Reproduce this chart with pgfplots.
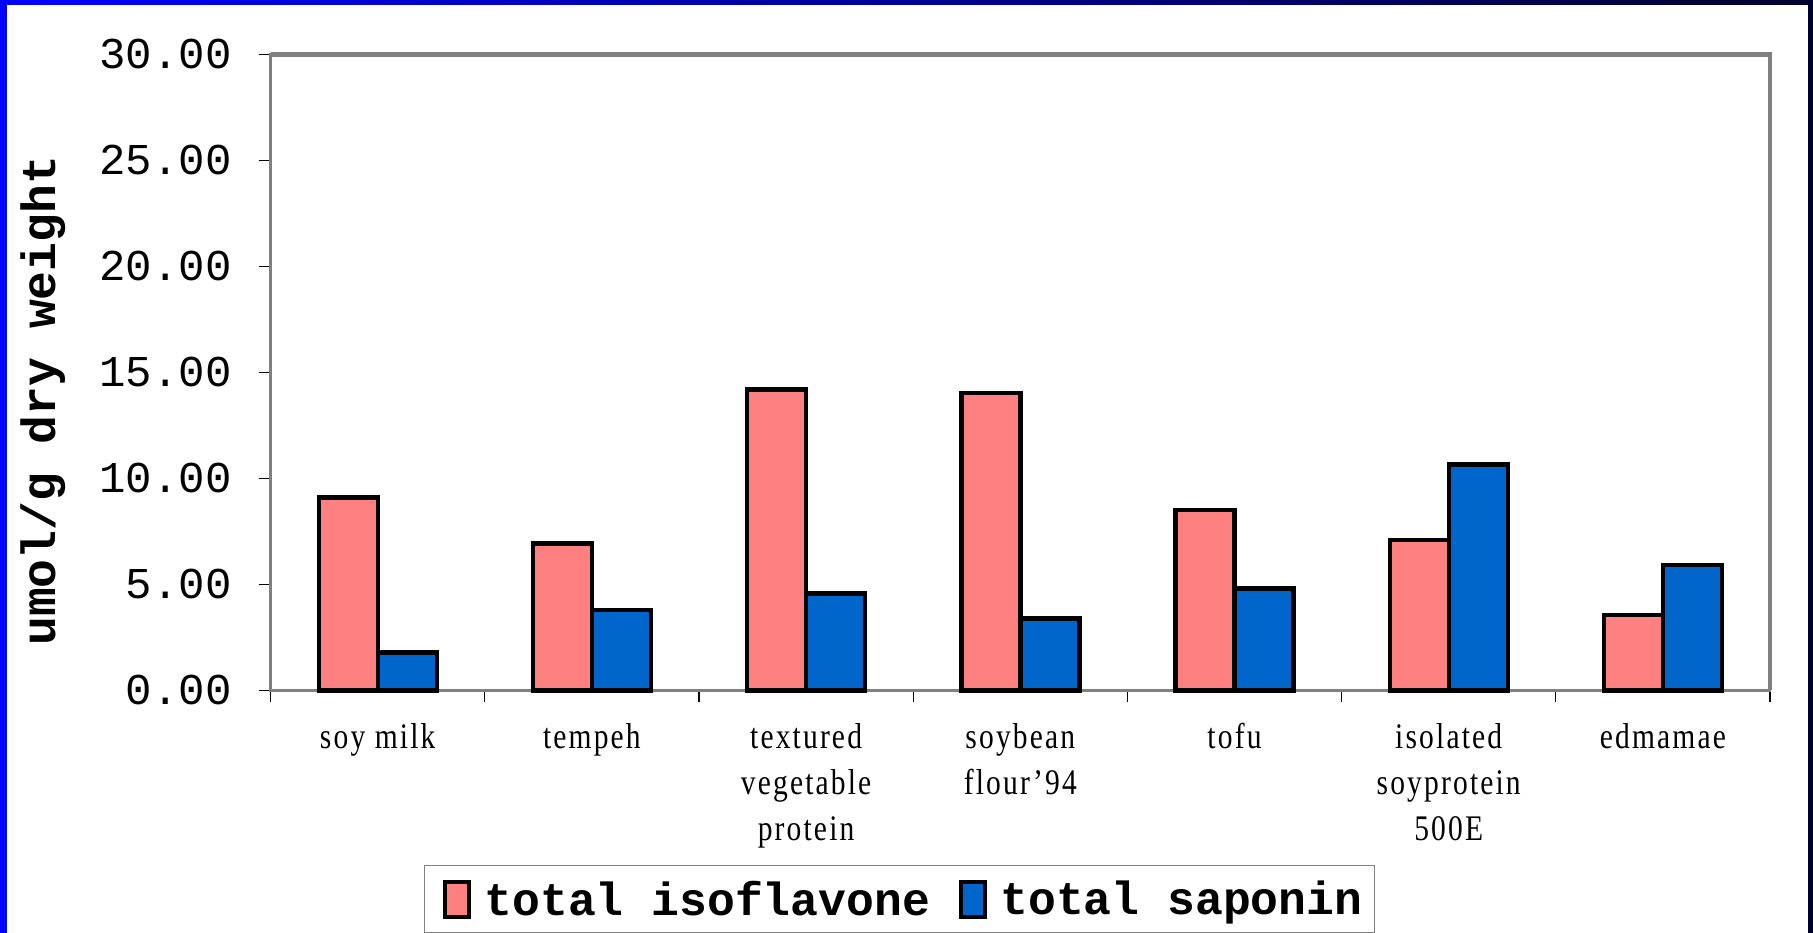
\documentclass[border=0pt]{standalone}
\usepackage{pgfplots}
\pgfplotsset{compat=1.18}
\usepackage{fontspec}
\setmainfont{Liberation Serif}
\newfontfamily\cour{Liberation Mono}
\newfontfamily\tnr[FakeStretch=0.82, LetterSpace=6]{Liberation Serif}
\definecolor{pinkc}{HTML}{FF8080}
\definecolor{bluec}{HTML}{0066CC}
\definecolor{axgray}{HTML}{808080}
\begin{document}
\begin{tikzpicture}
\useasboundingbox (0,0) rectangle (906.5pt,-466pt);
\shade[left color={rgb,255:red,0;green,0;blue,255}, right color={rgb,255:red,0;green,0;blue,45}] (0,0) rectangle (906.5pt,-466pt);
\fill[white] (3.5pt,-2.5pt) rectangle (904pt,-470pt);
\begin{axis}[
  at={(135.3pt,-27.15pt)}, anchor=north west,
  scale only axis, width=749.7pt, height=318pt,
  ybar=0pt, bar width=29.5pt,
  xmin=-0.5, xmax=6.5, ymin=0, ymax=30,
  clip=false,
  xtick={0,...,6},
  xticklabels={soy milk, tempeh, {textured\\vegetable\\protein}, {soybean\\flour’94}, tofu, {isolated\\soyprotein\\500E}, edmamae},
  minor xtick={-0.5,0.5,...,6.5},
  major x tick style={draw=none},
  minor x tick style={black, line width=0.6pt},
  minor tick length=6pt,
  ytick={0,5,...,30},
  major tick length=6pt,
  tick align=outside,
  tick pos=left,
  ytick style={black, line width=0.6pt},
  axis line style={axgray, line width=1.3pt},
  /pgf/number format/.cd, fixed, fixed zerofill, precision=2, assume math mode=true,
  /pgfplots/.cd,
  yticklabel style={font=\cour\fontsize{22}{22}\selectfont, xshift=-10pt},
  xticklabel style={font=\tnr\fontsize{18}{23}\selectfont, align=center, anchor=north, inner sep=0pt, yshift=-10.3pt},
  ylabel={umol/g dry weight},
  every axis y label/.style={at={(axis description cs:-0.1435,0.455)}, rotate=90, anchor=base, font=\cour\bfseries\fontsize{24}{24}\selectfont},
  legend columns=2,
  legend style={at={(axis description cs:0.1023,-0.2747)}, anchor=north west,
    draw=axgray, line width=0.7pt, inner xsep=6pt, inner ysep=7pt,
    font=\cour\bfseries\fontsize{23.2}{23.2}\selectfont,
    nodes={inner sep=0pt},
    /tikz/every odd column/.append style={column sep=6.7pt},
    /tikz/every even column/.append style={column sep=11.3pt}},
  legend image code/.code={\path (0pt,0pt); \draw[#1, line width=2.2pt] (3pt,-8.75pt) rectangle (15pt,8.75pt);},
]
\addplot[fill=pinkc, draw=black, line width=2.2pt] coordinates {(0,9.09) (1,6.92) (2,14.18) (3,14.02) (4,8.51) (5,7.10) (6,3.56)};
\addplot[fill=bluec, draw=black, line width=2.2pt] coordinates {(0,1.78) (1,3.78) (2,4.57) (3,3.38) (4,4.80) (5,10.65) (6,5.92)};
\legend{total isoflavone, total saponin}
\draw[axgray, line width=2.2pt] (rel axis cs:0,1) -- (rel axis cs:1,1) -- (rel axis cs:1,0);
\end{axis}
\end{tikzpicture}
\end{document}
